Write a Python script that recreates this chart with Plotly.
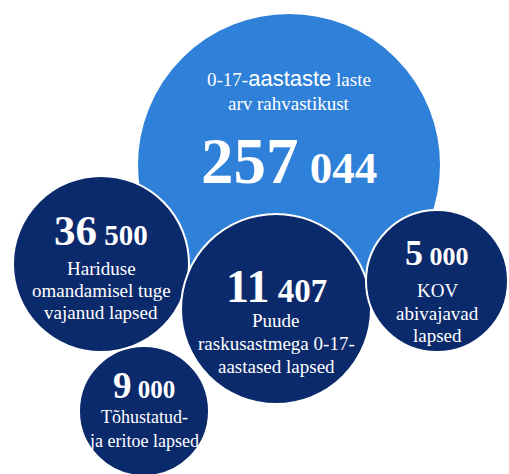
import plotly.graph_objects as go

# ---- data ----
values = [257044, 36500, 11407, 5000, 9000]
labels = [
    ["0-17-<span style='font-family:Liberation Sans;font-size:22px'>aastaste</span> laste", "arv rahvastikust"],
    ["Hariduse", "omandamisel tuge", "vajanud lapsed"],
    ["Puude", "raskusastmega 0-17-", "aastased lapsed"],
    ["KOV", "abivajavad", "lapsed"],
    ["Tõhustatud-", "ja eritoe lapsed"],
]

# ---- layout (pixel coordinates of bubbles and text) ----
cx = [289, 101, 276, 437, 144]
cy = [165, 264, 309, 281, 411]
rad = [152, 88, 95, 71, 65]
colors = ["#2E80D8", "#0B2A6C", "#0B2A6C", "#0B2A6C", "#0B2A6C"]
num_base = [182, 245, 302, 265, 398]
num_big = [65, 43, 46, 36, 37]
num_small = [45, 29, 33, 26, 25]
lab_base = [[85, 110], [275, 297, 319], [327, 350, 373], [297, 320, 342], [423, 447]]
lab_size = [19, 19, 19, 19, 18]

W, H = 509, 474
fig = go.Figure()
fig.add_trace(go.Scatter(
    x=cx, y=cy, mode="markers",
    marker=dict(size=[2 * r for r in rad], sizemode="diameter", color=colors,
                opacity=1, line=dict(color="white", width=2)),
    hoverinfo="skip", showlegend=False,
))

serif = "Liberation Serif, Times New Roman, serif"
ann = []
for i, v in enumerate(values):
    big = f"{v // 1000}"
    small = f"{v % 1000:03d}"
    txt = f"<b>{big}</b><span style='font-size:{num_small[i]}px'><b> {small}</b></span>"
    fs = num_big[i]
    ann.append(dict(x=cx[i], y=num_base[i] - 0.33 * fs, text=txt, showarrow=False,
                    xanchor="center", yanchor="middle",
                    font=dict(family=serif, size=fs, color="white")))
    for j, line in enumerate(labels[i]):
        lf = lab_size[i]
        ann.append(dict(x=cx[i], y=lab_base[i][j] - 0.33 * lf, text=line, showarrow=False,
                        xanchor="center", yanchor="middle",
                        font=dict(family=serif, size=lf, color="white")))

fig.update_layout(
    width=W, height=H, margin=dict(l=0, r=0, t=0, b=0),
    paper_bgcolor="white", plot_bgcolor="white",
    xaxis=dict(range=[0, W], visible=False, fixedrange=True),
    yaxis=dict(range=[H, 0], visible=False, fixedrange=True),
    annotations=ann,
)
fig.write_html("out.html")
